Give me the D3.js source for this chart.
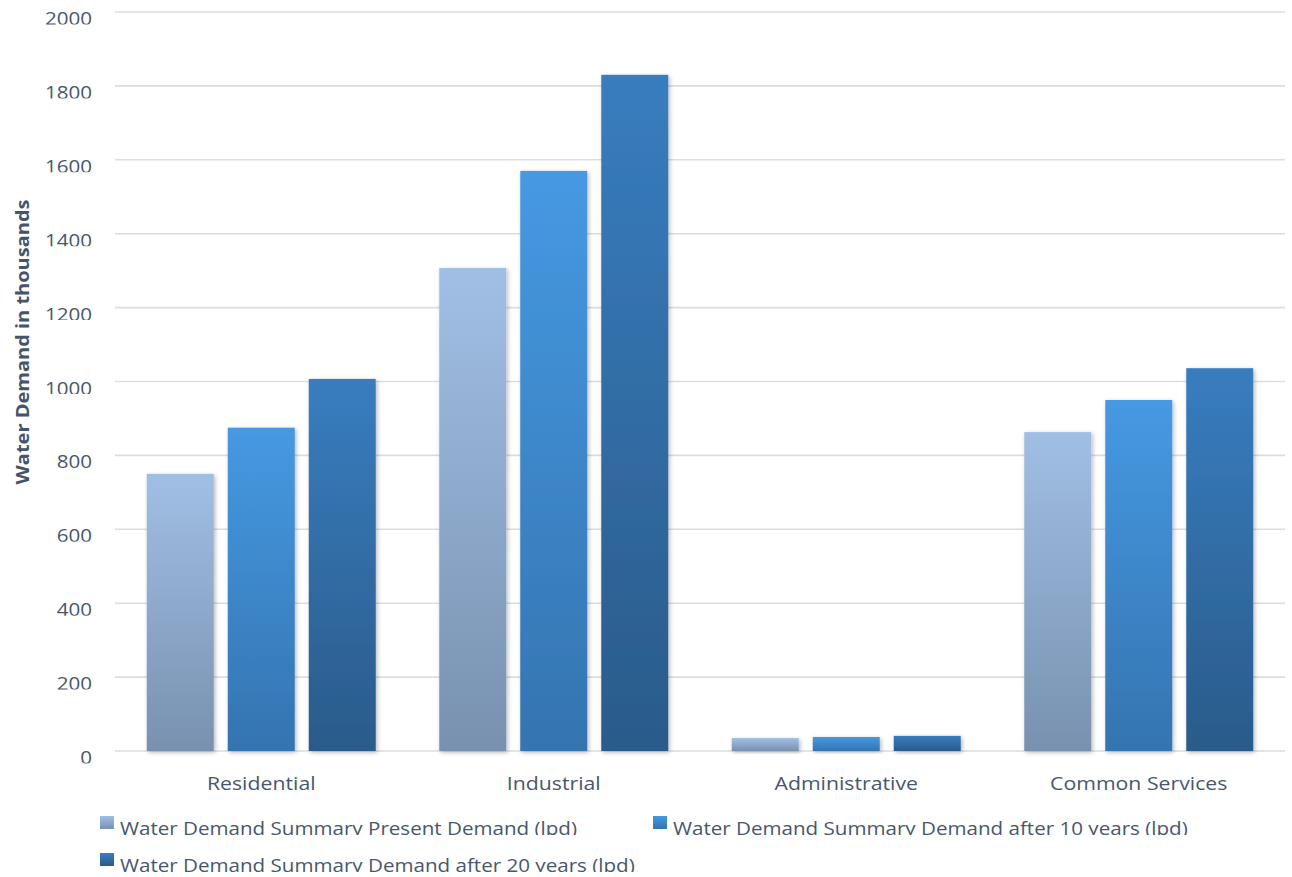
<!DOCTYPE html>
<html>
<head>
<meta charset="utf-8">
<script src="https://cdn.jsdelivr.net/npm/d3@7/dist/d3.min.js"></script>
<style>
  html, body { margin: 0; padding: 0; background: #ffffff; }
  svg { display: block; }
  text { font-family: "Open Sans", "Liberation Sans", sans-serif; }
</style>
</head>
<body>
<svg id="chart" width="1292" height="877"></svg>
<script>
// ---- data ----
const categories = ["Residential", "Industrial", "Administrative", "Common Services"];
const seriesNames = [
  "Water Demand Summary Present Demand (lpd)",
  "Water Demand Summary Demand after 10 years (lpd)",
  "Water Demand Summary Demand after 20 years (lpd)"
];
const presentDemand = [750, 1307, 35, 863];
const demand10Years = [875, 1570, 38, 950];
const demand20Years = [1007, 1830, 41, 1036];
const yTicks = [0, 200, 400, 600, 800, 1000, 1200, 1400, 1600, 1800, 2000];
const yTitle = "Water Demand in thousands";

const seriesValues = [presentDemand, demand10Years, demand20Years];
const gradStops = [
  ["#A1BFE5", "#7891AF"],
  ["#4699E2", "#3474B0"],
  ["#387DBF", "#2A5B8A"]
];
const textColor = "#48576D";

const svg = d3.select("#chart");
const defs = svg.append("defs");

// gradients
gradStops.forEach((s, i) => {
  const g = defs.append("linearGradient").attr("id", "grad" + i)
    .attr("x1", 0).attr("y1", 0).attr("x2", 0).attr("y2", 1);
  g.append("stop").attr("offset", "0%").attr("stop-color", s[0]);
  g.append("stop").attr("offset", "100%").attr("stop-color", s[1]);
});
const sh = defs.append("filter").attr("id", "shadow")
  .attr("x", "-20%").attr("y", "-20%").attr("width", "140%").attr("height", "140%");
sh.append("feDropShadow").attr("dx", 1.5).attr("dy", 1.5).attr("stdDeviation", 2)
  .attr("flood-color", "#000").attr("flood-opacity", 0.28);

// scales
const y = d3.scaleLinear().domain([0, 2000]).range([751, 12]);
const x0 = d3.scaleBand().domain(categories).range([115, 1285]).padding(0);
const x1 = d3.scaleBand().domain(d3.range(seriesNames.length))
  .range([0, x0.bandwidth()]).paddingInner(0.173).paddingOuter(0.392);

// text stretch factor (reference text is horizontally stretched)
const probe = svg.append("text").attr("font-size", 18).text(seriesNames[0]);
const k = 457 / probe.node().getComputedTextLength();
probe.remove();

let clipId = 0;
function clippedText(parent, x, yBase, clipY, str, size, anchor, weight) {
  const id = "clip" + (clipId++);
  defs.append("clipPath").attr("id", id).append("rect")
    .attr("x", 0).attr("y", 0).attr("width", 1292).attr("height", clipY);
  const t = parent.append("text")
    .attr("clip-path", `url(#${id})`)
    .attr("x", x).attr("y", yBase)
    .attr("font-size", size)
    .attr("font-weight", weight || "normal")
    .attr("fill", textColor)
    .attr("text-anchor", anchor)
    .text(str);
  const w = t.node().getComputedTextLength();
  t.attr("textLength", w * k).attr("lengthAdjust", "spacingAndGlyphs");
  return t;
}

// gridlines
const grid = svg.append("g");
grid.selectAll("line").data(yTicks).join("line")
  .attr("x1", 115).attr("x2", 1285)
  .attr("y1", d => y(d)).attr("y2", d => y(d))
  .attr("stroke", "#D9DEE4").attr("stroke-width", 1.6);

// y tick labels
const yl = svg.append("g");
yTicks.forEach(v => clippedText(yl, 92, y(v) + 13, y(v) + 12.5, String(v), 18, "end"));

// bars
const bars = svg.append("g");
categories.forEach((c, ci) => {
  seriesValues.forEach((vals, si) => {
    bars.append("rect")
      .attr("x", x0(c) + x1(si))
      .attr("width", x1.bandwidth())
      .attr("y", y(vals[ci]))
      .attr("height", y(0) - y(vals[ci]))
      .attr("fill", `url(#grad${si})`)
      .attr("filter", "url(#shadow)");
  });
});

// category labels
const xl = svg.append("g");
categories.forEach(c => clippedText(xl, x0(c) + x0.bandwidth() / 2, 790, 791, c, 18.6, "middle"));

// y axis title
svg.append("text")
  .attr("transform", "translate(29,342) rotate(-90)")
  .attr("text-anchor", "middle")
  .attr("font-size", 18)
  .attr("font-weight", "bold")
  .attr("fill", "#44546A")
  .attr("textLength", 285).attr("lengthAdjust", "spacingAndGlyphs")
  .text(yTitle);

// legend
const legendPos = [[100, 816], [653, 816], [100, 853]];
const lg = svg.append("g");
seriesNames.forEach((n, i) => {
  const [lx, ly] = legendPos[i];
  lg.append("rect").attr("x", lx).attr("y", ly).attr("width", 14).attr("height", 13)
    .attr("fill", `url(#grad${i})`);
  clippedText(lg, lx + 20, ly + 19, ly + 19, n, 18, "start");
});
</script>
</body>
</html>
